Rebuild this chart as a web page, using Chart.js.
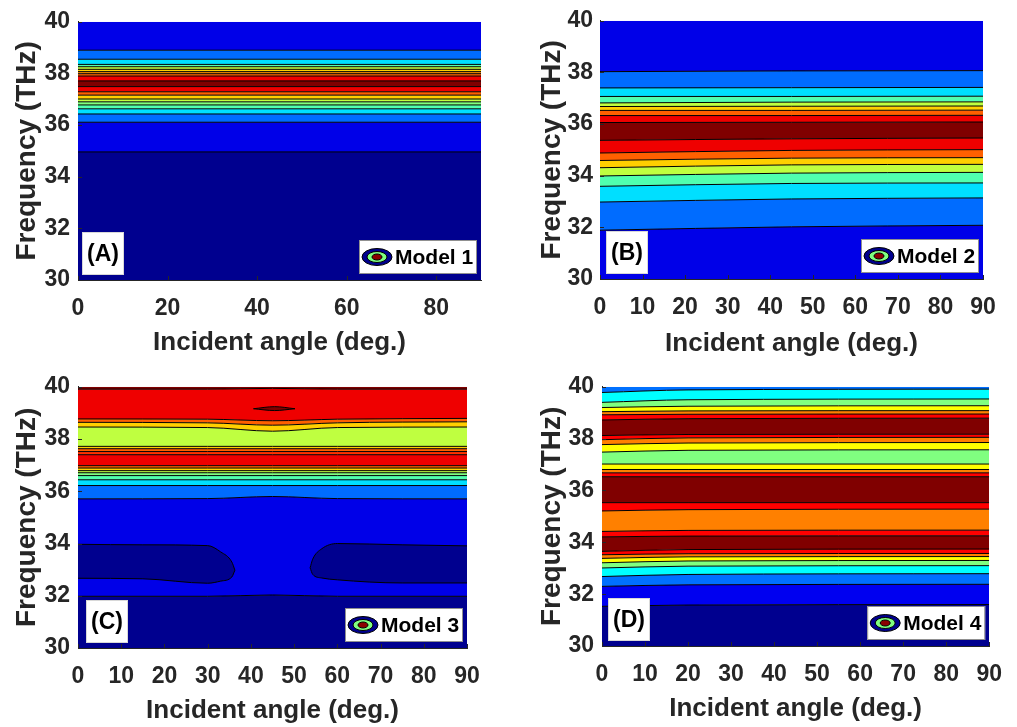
<!DOCTYPE html>
<html>
<head>
<meta charset="utf-8">
<script src="https://cdn.jsdelivr.net/npm/chart.js"></script>
<style>
  body { margin: 0; background: #fff; }
  #wrap { position: relative; width: 1017px; height: 727px; overflow: hidden; }
  canvas { position: absolute; }
</style>
</head>
<body>
<div id="wrap">
  <canvas id="cA" width="500" height="365" style="left:0;top:0"></canvas>
  <canvas id="cB" width="517" height="365" style="left:500px;top:0"></canvas>
  <canvas id="cC" width="500" height="362" style="left:0;top:365px"></canvas>
  <canvas id="cD" width="517" height="362" style="left:500px;top:365px"></canvas>
</div>
<script>
// jet-like colour steps
const NAVY = '#00008F', BLUE = '#0000E8', AZURE = '#006CFF', CYAN = '#00DFFF',
      AQUA = '#50FFAF', LGREEN = '#80FF80', YGREEN = '#BFFF40', YELLOW = '#FFCF00',
      AMBER = '#FF9000', ORANGE = '#FF6000', REDOR = '#FF3000', RED = '#EF0000', DRED = '#800000';
const D_AZURE = '#0070FF', D_CYAN = '#00FFFF', D_GREEN = '#80FF80', D_YELLOW = '#FFFF00',
      D_ORANGE = '#FF8000', D_RED = '#FF0000', D_BLUE = '#0000F0';

const yTicks = [30, 32, 34, 36, 38, 40];
const xTicksA = [0, 20, 40, 60, 80];
const xTicks = [0, 10, 20, 30, 40, 50, 60, 70, 80, 90];

// ---- Model 1 : contour levels (THz), bottom to top, one value per angle
const anglesA = [0, 90];
const levelsA = [
  [34.96, 34.96], [36.11, 36.11], [36.43, 36.43], [36.63, 36.63], [36.78, 36.78],
  [36.90, 36.90], [37.01, 37.01], [37.16, 37.16], [37.29, 37.29], [37.49, 37.49],
  [37.71, 37.71], [37.90, 37.90], [37.99, 37.99], [38.07, 38.07], [38.16, 38.16],
  [38.26, 38.26], [38.35, 38.35], [38.55, 38.55], [38.90, 38.90]
];
const colorsA = [NAVY, BLUE, AZURE, CYAN, AQUA, LGREEN, YGREEN, YELLOW, ORANGE, RED,
  DRED, RED, ORANGE, AMBER, YELLOW, YGREEN, AQUA, CYAN, AZURE, BLUE];

// ---- Model 2
const anglesB = [0, 45, 90];
const levelsB = [
  [31.89, 32.02, 32.08], [32.98, 33.10, 33.14], [33.59, 33.70, 33.72], [33.99, 34.10, 34.13],
  [34.31, 34.42, 34.44], [34.59, 34.68, 34.70], [34.88, 34.98, 35.01], [35.37, 35.43, 35.46],
  [36.06, 36.07, 36.08], [36.33, 36.33, 36.34], [36.53, 36.53, 36.54], [36.68, 36.69, 36.70],
  [36.82, 36.85, 36.86], [37.07, 37.07, 37.08], [37.40, 37.41, 37.42], [38.03, 38.06, 38.07]
];
const colorsB = [BLUE, AZURE, CYAN, AQUA, YGREEN, YELLOW, ORANGE, RED, DRED, RED, ORANGE,
  YELLOW, YGREEN, AQUA, CYAN, AZURE, BLUE];

// ---- Model 3
const anglesC = [0, 30, 45, 60, 90];
const levelsC = [
  [31.98, 31.98, 32.03, 31.98, 31.98], [35.71, 35.72, 35.80, 35.72, 35.71],
  [36.22, 36.22, 36.22, 36.22, 36.22], [36.44, 36.44, 36.44, 36.44, 36.44],
  [36.60, 36.60, 36.60, 36.60, 36.60], [36.71, 36.71, 36.71, 36.71, 36.71],
  [36.79, 36.79, 36.79, 36.79, 36.79], [36.89, 36.89, 36.89, 36.89, 36.89],
  [36.98, 36.98, 36.98, 36.98, 36.98], [37.40, 37.40, 37.40, 37.40, 37.40],
  [37.52, 37.52, 37.52, 37.52, 37.52], [37.63, 37.63, 37.63, 37.63, 37.63],
  [37.72, 37.72, 37.72, 37.72, 37.72], [38.46, 38.44, 38.30, 38.44, 38.46],
  [38.64, 38.62, 38.53, 38.62, 38.66], [38.77, 38.76, 38.70, 38.76, 38.79],
  [39.91, 39.91, 39.94, 39.91, 39.91]
];
const colorsC = [NAVY, BLUE, AZURE, CYAN, AQUA, LGREEN, YGREEN, YELLOW, ORANGE, RED, REDOR,
  ORANGE, YELLOW, YGREEN, YELLOW, ORANGE, RED, DRED];
// closed regions inside Model 3
const blobLeftAngles = [0, 15, 30, 33, 35.6, 36.3];
const blobLeftTop = [33.97, 33.95, 33.92, 33.68, 33.29, 32.98];
const blobLeftBottom = [32.67, 32.65, 32.48, 32.56, 32.72, 32.98];
const blobRightAngles = [53.7, 54.3, 56.4, 60, 75, 90];
const blobRightTop = [33.07, 33.40, 33.80, 34.00, 33.95, 33.91];
const blobRightBottom = [33.07, 32.82, 32.68, 32.61, 32.49, 32.49];
const spotAngles = [40.6, 45.5, 50.2];
const spotTop = [39.16, 39.24, 39.16];
const spotBottom = [39.16, 39.09, 39.16];

// ---- Model 4
const anglesD = [0, 20, 90];
const levelsD = [
  [31.53, 31.58, 31.60], [32.30, 32.36, 32.38], [32.68, 32.76, 32.79], [33.01, 33.08, 33.10],
  [33.21, 33.28, 33.30], [33.38, 33.44, 33.45], [33.52, 33.56, 33.57], [33.65, 33.72, 33.74],
  [34.21, 34.24, 34.25], [34.42, 34.46, 34.47], [35.21, 35.26, 35.28], [35.53, 35.53, 35.53],
  [36.53, 36.53, 36.53], [36.68, 36.68, 36.68], [36.81, 36.81, 36.81], [37.02, 37.02, 37.02],
  [37.48, 37.55, 37.57], [37.77, 37.83, 37.85], [37.96, 38.03, 38.05], [38.12, 38.16, 38.17],
  [38.72, 38.77, 38.79], [38.92, 38.94, 38.95], [39.04, 39.07, 39.08], [39.20, 39.25, 39.27],
  [39.40, 39.50, 39.53], [39.78, 39.88, 39.91]
];
const colorsD = [NAVY, D_BLUE, D_AZURE, D_CYAN, D_GREEN, D_YELLOW, D_ORANGE, D_RED, DRED,
  D_RED, D_ORANGE, D_RED, DRED, D_RED, D_ORANGE, D_YELLOW, D_GREEN, D_YELLOW, D_ORANGE,
  D_RED, DRED, D_RED, D_ORANGE, D_YELLOW, D_GREEN, D_CYAN, D_AZURE];

const FONT = "'Liberation Sans', Arial, sans-serif";
const TXT = '#262626';

function toPoints(angles, vals) {
  return angles.map((a, j) => ({ x: a, y: vals[j] }));
}

function bandSets(angles, levels, colors) {
  const sets = levels.map((lv, i) => ({
    data: toPoints(angles, lv),
    borderColor: '#000',
    borderWidth: 1,
    backgroundColor: colors[i],
    fill: i === 0 ? 'start' : '-1',
    pointRadius: 0,
    cubicInterpolationMode: 'monotone'
  }));
  // band above the last level
  sets.push({
    data: toPoints(angles, levels[levels.length - 1]),
    borderWidth: 0,
    borderColor: 'rgba(0,0,0,0)',
    backgroundColor: colors[levels.length],
    fill: 'end',
    pointRadius: 0,
    cubicInterpolationMode: 'monotone'
  });
  return sets;
}

function blobSets(angles, top, bottom, color) {
  return [
    { data: toPoints(angles, bottom), borderColor: '#000', borderWidth: 1, fill: false,
      pointRadius: 0, cubicInterpolationMode: 'monotone', order: -1 },
    { data: toPoints(angles, top), borderColor: '#000', borderWidth: 1, fill: '-1',
      backgroundColor: color, pointRadius: 0, cubicInterpolationMode: 'monotone', order: -1 }
  ];
}

// inward tick marks (MATLAB style)
const innerTicks = {
  id: 'innerTicks',
  afterDatasetsDraw(chart) {
    const { ctx, chartArea: a, scales: { x, y } } = chart;
    ctx.save();
    ctx.strokeStyle = TXT;
    ctx.lineWidth = 1;
    ctx.beginPath();
    x.ticks.forEach(t => {
      const px = Math.round(x.getPixelForValue(t.value)) + 0.5;
      ctx.moveTo(px, a.bottom);
      ctx.lineTo(px, a.bottom - 4);
    });
    y.ticks.forEach(t => {
      const py = Math.round(y.getPixelForValue(t.value)) + 0.5;
      ctx.moveTo(a.left, py);
      ctx.lineTo(a.left + 4, py);
    });
    ctx.stroke();
    ctx.restore();
  }
};

// panel letter and legend box
const panelBoxes = {
  id: 'panelBoxes',
  afterDraw(chart, args, opts) {
    const { ctx, chartArea: a } = chart;
    ctx.save();
    // letter
    const tx = a.left + opts.tagDx, ty = a.bottom - 48;
    ctx.fillStyle = '#fff';
    ctx.fillRect(tx, ty, 42, 43);
    ctx.strokeStyle = '#d8d8d8';
    ctx.strokeRect(tx + 0.5, ty + 0.5, 41, 42);
    ctx.fillStyle = '#000';
    ctx.font = 'bold 23px ' + FONT;
    ctx.textAlign = 'center';
    ctx.textBaseline = 'middle';
    ctx.fillText(opts.tag, tx + 21, ty + 23);
    // legend
    const lw = 118, lh = 34;
    const lx = a.right - lw - 4, ly = a.bottom - lh - 6;
    ctx.fillStyle = '#fff';
    ctx.fillRect(lx, ly, lw, lh);
    ctx.strokeStyle = '#909090';
    ctx.strokeRect(lx + 0.5, ly + 0.5, lw - 1, lh - 1);
    const cx = lx + 18, cy = ly + 17;
    [[15, 8.5, NAVY], [10, 5.5, '#80FF80'], [5, 3, '#8B0000']].forEach(([rx, ry, c]) => {
      ctx.beginPath();
      ctx.ellipse(cx, cy, rx, ry, 0, 0, Math.PI * 2);
      ctx.fillStyle = c;
      ctx.fill();
      ctx.strokeStyle = '#000';
      ctx.lineWidth = 1;
      ctx.stroke();
    });
    ctx.fillStyle = '#000';
    ctx.font = 'bold 21px ' + FONT;
    ctx.textAlign = 'left';
    ctx.fillText(opts.legend, lx + 36, cy + 1);
    ctx.restore();
  }
};

function makePanel(id, datasets, xTickVals, g, tag, legend) {
  new Chart(document.getElementById(id), {
    type: 'line',
    data: { datasets },
    plugins: [innerTicks, panelBoxes],
    options: {
      responsive: false,
      animation: false,
      events: [],
      layout: { padding: { top: g.padTop, right: g.padRight, left: 0, bottom: 0 } },
      plugins: {
        legend: { display: false },
        tooltip: { enabled: false },
        filler: { drawTime: 'beforeDatasetsDraw' },
        panelBoxes: { tag, legend, tagDx: g.tagDx }
      },
      scales: {
        x: {
          type: 'linear', min: 0, max: 90,
          afterBuildTicks: s => { s.ticks = xTickVals.map(v => ({ value: v })); },
          afterFit: s => { s.height = g.xH; },
          grid: { display: false, drawTicks: false },
          border: { display: true, color: TXT, width: 1 },
          ticks: { padding: 15, color: TXT, maxRotation: 0, autoSkip: false,
                   font: { family: FONT, size: 23, weight: 'bold' } },
          title: { display: true, text: 'Incident angle (deg.)', color: TXT,
                   font: { family: FONT, size: 26, weight: 'bold' },
                   padding: { top: 0, bottom: g.xTitlePad } }
        },
        y: {
          type: 'linear', min: 30, max: 40,
          afterBuildTicks: s => { s.ticks = yTicks.map(v => ({ value: v })); },
          afterFit: s => { s.width = g.yW; },
          grid: { display: false, drawTicks: false },
          border: { display: true, color: TXT, width: 1 },
          ticks: { padding: g.yTickPad, color: TXT,
                   font: { family: FONT, size: 23, weight: 'bold' } },
          title: { display: true, text: 'Frequency (THz)', color: TXT,
                   font: { family: FONT, size: 28, weight: 'bold' },
                   padding: { top: g.yTitlePad, bottom: 0 } }
        }
      }
    }
  });
}

makePanel('cA', bandSets(anglesA, levelsA, colorsA), xTicksA,
  { padTop: 20, padRight: 19, yW: 78, xH: 85, xTitlePad: 7, yTitlePad: 10, yTickPad: 8, tagDx: 4 },
  '(A)', 'Model 1');

makePanel('cB', bandSets(anglesB, levelsB, colorsB), xTicks,
  { padTop: 20, padRight: 34, yW: 100, xH: 86, xTitlePad: 6, yTitlePad: 35, yTickPad: 7, tagDx: 6 },
  '(B)', 'Model 2');

makePanel('cC', bandSets(anglesC, levelsC, colorsC)
    .concat(blobSets(blobLeftAngles, blobLeftTop, blobLeftBottom, NAVY))
    .concat(blobSets(blobRightAngles, blobRightTop, blobRightBottom, NAVY))
    .concat(blobSets(spotAngles, spotTop, spotBottom, DRED)), xTicks,
  { padTop: 21, padRight: 33, yW: 78, xH: 79, xTitlePad: 1, yTitlePad: 10, yTickPad: 8, tagDx: 8 },
  '(C)', 'Model 3');

makePanel('cD', bandSets(anglesD, levelsD, colorsD), xTicks,
  { padTop: 20, padRight: 24, yW: 102, xH: 81, xTitlePad: 3, yTitlePad: 35, yTickPad: 8, tagDx: 6 },
  '(D)', 'Model 4');
</script>
</body>
</html>
